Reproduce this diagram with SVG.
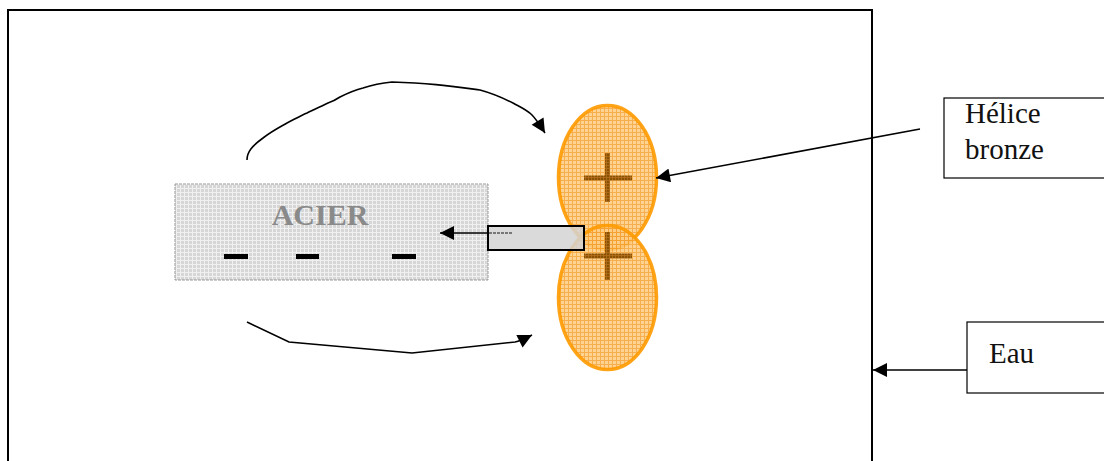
<svg xmlns="http://www.w3.org/2000/svg" width="1104" height="461" viewBox="0 0 1104 461">
  <defs>
    <pattern id="gridGray" width="4" height="4" patternUnits="userSpaceOnUse">
      <rect width="4" height="4" fill="#d6d6d6"/>
      <path d="M0 0.5H4M0.5 0V4" stroke="#f0f0f0" stroke-width="1"/>
    </pattern>
    <pattern id="gridOrange" width="4" height="4" patternUnits="userSpaceOnUse">
      <rect width="4" height="4" fill="#ffcc80"/>
      <path d="M0 0.5H4M0.5 0V4" stroke="#f5a030" stroke-width="1"/>
    </pattern>
    <pattern id="gridBrown" width="3" height="3" patternUnits="userSpaceOnUse">
      <rect width="3" height="3" fill="#8a5200"/>
      <path d="M0 0.5H3M0.5 0V3" stroke="#b27020" stroke-width="0.8"/>
    </pattern>
    <marker id="arrowBig" viewBox="0 0 10 10" refX="10" refY="5" markerWidth="16" markerHeight="14" markerUnits="userSpaceOnUse" orient="auto">
      <path d="M0 0L10 5L0 10Z" fill="#000"/>
    </marker>
  </defs>
  <style>
    .frame { fill: #fff; stroke: #000; stroke-width: 2; }
    .label { fill: #fff; stroke: #000; stroke-width: 1.2; }
    .txt { font-family: "Liberation Serif", serif; font-size: 29px; fill: #111; }
    .conn { fill: none; stroke: #000; stroke-width: 1.6; }
    .lobe { fill: url(#gridOrange); fill-opacity: 0.85; stroke: #ff9a00; stroke-width: 3.5; stroke-opacity: 0.9; }
    .plus { fill: url(#gridBrown); }
    .minus { fill: #000; }
  </style>

  <rect width="1104" height="461" fill="#fff"/>

  <!-- water tank -->
  <g id="eau-bac">
    <rect class="frame" x="8" y="10" width="864" height="470"/>
  </g>

  <!-- steel hull -->
  <g id="acier">
    <rect x="175" y="184" width="313" height="96" fill="url(#gridGray)" stroke="#999" stroke-width="1" stroke-dasharray="3 1"/>
    <text x="320" y="225" text-anchor="middle" font-family="Liberation Serif, serif" font-weight="bold" font-size="30" fill="#8a8a8a">ACIER</text>
    <rect class="minus" x="224" y="254" width="24" height="5"/>
    <rect class="minus" x="296" y="254" width="23" height="5"/>
    <rect class="minus" x="392" y="254" width="24" height="5"/>
  </g>

  <!-- bronze propeller -->
  <g id="helice">
    <ellipse class="lobe" cx="607.5" cy="177.5" rx="49" ry="72"/>
    <ellipse class="lobe" cx="607.5" cy="297.5" rx="49" ry="72"/>
    <rect class="plus" x="605" y="153" width="5" height="49"/>
    <rect class="plus" x="584" y="175.5" width="48" height="5"/>
    <rect class="plus" x="605" y="232" width="5" height="48"/>
    <rect class="plus" x="584" y="253.5" width="48" height="5"/>
  </g>

  <!-- shaft -->
  <g id="arbre">
    <rect x="488" y="226" width="96" height="24" fill="#d4d4d4" fill-opacity="0.85" stroke="#000" stroke-width="2"/>
    <line x1="489" y1="233" x2="513" y2="233" stroke="#777" stroke-width="2" stroke-dasharray="3 1"/>
  </g>

  <!-- labels -->
  <g id="label-helice">
    <rect class="label" x="944" y="98" width="170" height="80"/>
    <text class="txt" x="965" y="123">Hélice</text>
    <text class="txt" x="965" y="159">bronze</text>
  </g>
  <g id="label-eau">
    <rect class="label" x="967" y="322" width="150" height="71"/>
    <text class="txt" x="989" y="363">Eau</text>
  </g>

  <!-- connectors -->
  <g id="connectors">
    <path class="conn" d="M247 160 C247 152 252 146 263 138 C272 131 280 127 287 123 C295 119 300 116 307 113 C315 109 322 106 328 103 C334 101 337 99 340 97 C348 93 355 90 363 88 C372 85 382 83 392 82 C430 83 450 86 480 90 C495 94 505 99 513 103 C520 107 527 110 532 115 C536 119 540 125 545 133" marker-end="url(#arrowBig)"/>
    <path class="conn" d="M247 322 L289 342 L412 353 L515 342 C520 341 524 339 532 335" marker-end="url(#arrowBig)"/>
    <line class="conn" x1="488" y1="233" x2="440" y2="233" marker-end="url(#arrowBig)"/>
    <line class="conn" x1="920" y1="129" x2="656" y2="178" marker-end="url(#arrowBig)"/>
    <line class="conn" x1="967" y1="370" x2="873" y2="370" marker-end="url(#arrowBig)"/>
  </g>
</svg>
